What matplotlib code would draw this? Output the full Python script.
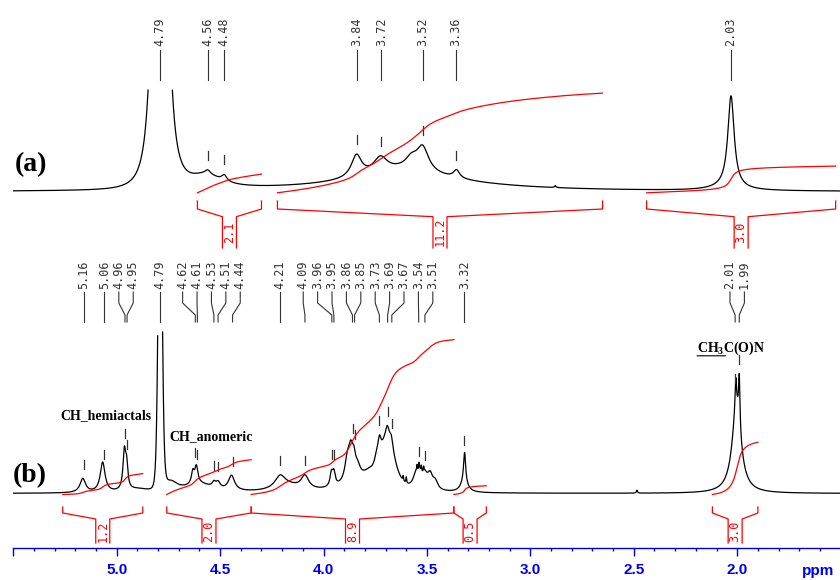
import numpy as np
import matplotlib
matplotlib.use("Agg")
import matplotlib.pyplot as plt
from matplotlib.ticker import FixedLocator, MultipleLocator

# ------------------------------------------------------------------ data
# spectrum (a): line components  (position ppm, height, half width ppm, shape exponent)
a_pos = [4.79, 4.57, 4.56, 4.48, 3.60, 3.62, 3.841, 3.725, 3.575, 3.521, 3.357, 2.03, 2.05, 2.88]
a_hgt = [1037, 13, 4, 6, 12, 9, 22, 15, 10, 24, 8, 92, 3, 2]
a_wid = [0.03, 0.10, 0.015, 0.015, 0.45, 0.20, 0.03, 0.04, 0.035, 0.035, 0.018, 0.0186, 0.10, 0.004]
a_pow = [1.5, 1, 1, 1, 1, 1, 1, 1, 1, 1, 1, 1, 1, 1]
a_peak_labels = [4.79, 4.56, 4.48, 3.84, 3.72, 3.52, 3.36, 2.03]
a_int_start = [4.610, 4.223, 2.438]
a_int_end = [4.300, 2.651, 1.524]
a_int_value = [2.1, 11.2, 3.0]

# spectrum (b)
b_pos = [5.164, 5.068, 4.963, 4.952, 4.90, 4.79, 4.74, 4.60, 4.632, 4.615, 4.53, 4.51, 4.445,
         4.21, 4.17, 4.09, 3.80, 3.962, 3.950, 3.885, 3.868, 3.853, 3.835, 3.78, 3.745, 3.73,
         3.69, 3.692, 3.672, 3.615, 3.600, 3.555, 3.548, 3.538, 3.535, 3.527, 3.516, 3.51,
         3.485, 3.46, 3.318, 3.32, 2.485, 2.003, 2.007, 1.990]
b_hgt = [14, 30, 38, 22, 3, 400, 10, 8, 12, 17, 5, 6, 15,
         12, 6, 13, 12, 13, 13, 20, 28, 15, 10, 5, 8, 20,
         50, 8, 8, 5, 6, 12, 6, 7, 12, 6, 5, 12,
         14, 8, 30, 10, 3, 85, 30, 50]
b_wid = [0.016, 0.014, 0.008, 0.007, 0.06, 0.023, 0.04, 0.08, 0.008, 0.009, 0.01, 0.012, 0.018,
         0.03, 0.08, 0.022, 0.10, 0.008, 0.008, 0.015, 0.014, 0.01, 0.015, 0.03, 0.012, 0.01,
         0.06, 0.008, 0.008, 0.002, 0.002, 0.015, 0.002, 0.002, 0.015, 0.002, 0.002, 0.015,
         0.015, 0.015, 0.006, 0.02, 0.003, 0.026, 0.004, 0.004]
b_pow = [1, 1, 1, 1, 1, 4, 1, 1, 1, 1, 1, 1, 1,
         1, 1, 1, 1, 1, 1, 1, 1, 1, 1, 1, 1, 1,
         2, 1, 1, 1, 1, 1, 1, 1, 1, 1, 1, 1,
         1, 1, 1, 1, 1, 1, 1, 1]
b_peak_labels = [5.16, 5.06, 4.96, 4.95, 4.79, 4.62, 4.61, 4.53, 4.51, 4.44, 4.21, 4.09,
                 3.96, 3.95, 3.86, 3.85, 3.73, 3.69, 3.67, 3.54, 3.51, 3.32, 2.01, 1.99]
b_int_start = [5.261, 4.758, 4.350, 3.370, 2.120]
b_int_end = [4.874, 4.350, 3.370, 3.213, 1.900]
b_int_value = [1.2, 2.0, 8.9, 0.5, 3.0]

x_ticks = [5.5, 5.0, 4.5, 4.0, 3.5, 3.0, 2.5, 2.0]
x_tick_labels = ["", "5.0", "4.5", "4.0", "3.5", "3.0", "2.5", "2.0"]

# ------------------------------------------------------------------ layout
W, H = 840, 580
X0 = 13.3          # left end of axis (px)
AXY = 548.3        # axis line (px from top)
XL, XR = 5.5, 1.503
PX = (XL - XR) / (W - X0)   # ppm per pixel
BLUE = "#0000ee"
GREY = "#333333"
RED = "#ff0000"

fig = plt.figure(figsize=(W / 100, H / 100), dpi=100)
ax = fig.add_axes([X0 / W, (H - AXY) / H, (W - X0) / W, AXY / H])
ax.set_xlim(XL, XR)
ax.set_ylim(AXY, 0)
for s in ("top", "left", "right"):
    ax.spines[s].set_visible(False)
ax.spines["bottom"].set_color(BLUE)
ax.spines["bottom"].set_linewidth(1.0)
ax.set_yticks([])
ax.xaxis.set_major_locator(FixedLocator(x_ticks))
ax.xaxis.set_minor_locator(MultipleLocator(0.1))
ax.set_xticklabels(x_tick_labels, fontweight="bold", family="Liberation Sans", fontsize=11, color=BLUE)
ax.tick_params(axis="x", which="major", direction="out", length=5.8, width=1, color=BLUE, pad=4.5)
ax.tick_params(axis="x", which="minor", direction="out", length=2.5, width=1, color=BLUE)
ax.text(XL - (818 - X0) * PX, 571, "ppm", ha="center", va="center", fontweight="bold",
        family="Liberation Sans", fontsize=11, color=BLUE, clip_on=False)

grid = np.linspace(XL, XR, 16001)


def model(pos, hgt, wid, pw):
    out = np.zeros_like(grid)
    for c, h, w, p in zip(pos, hgt, wid, pw):
        out += h / (1 + ((grid - c) / w) ** 2) ** p
    return out


def spread(ppms, gap_px):
    px = [(XL - p) / PX for p in ppms]
    q = [v - i * gap_px for i, v in enumerate(px)]
    blocks = []
    for v in q:
        blocks.append([v, 1])
        while len(blocks) > 1 and blocks[-2][0] / blocks[-2][1] > blocks[-1][0] / blocks[-1][1]:
            s, c = blocks.pop()
            blocks[-1][0] += s
            blocks[-1][1] += c
    fit = []
    for s, c in blocks:
        fit += [s / c] * c
    return [XL - (f + i * gap_px) * PX for i, f in enumerate(fit)]


def draw_spectrum(I, base, clip):
    y = base - I
    y = np.where(y < clip, np.nan, y)
    ax.plot(grid, y, color="black", lw=0.9, solid_joinstyle="round")


def draw_labels(I, base, labels, text_y, y_top, y_b1, y_b2, y_bot):
    lab = spread(labels, 14.4)
    for p, l in zip(labels, lab):
        ax.plot([l, l, p, p], [y_top, y_b1, y_b2, y_bot], color=GREY, lw=0.8)
        ax.text(l, text_y, f"{p:.2f}", rotation=90, ha="center", va="bottom",
                family="DejaVu Sans Mono", fontsize=8.5, color=GREY)
        yp = base - np.interp(p, grid[::-1], I[::-1])
        if yp - 19 > y_bot + 3:
            ax.plot([p, p], [yp - 19, yp - 10], color=GREY, lw=0.9)


def draw_integrals(I, base, starts, ends, values, scale, top, tick, drop, bottom, text_y):
    g = 7 * PX
    for p0, p1, v in zip(starts, ends, values):
        m = (grid <= p0) & (grid >= p1)
        cum = np.cumsum(I[m])
        cum = (cum - cum[0]) / (cum[-1] - cum[0])
        ax.plot(grid[m], base + 1 - v * scale * cum, color=RED, lw=0.9)
        xc = (p0 + p1) / 2
        ax.plot([p0, p0, xc + g, xc + g], [top, top + tick, top + tick + drop, bottom], color=RED, lw=0.9)
        ax.plot([p1, p1, xc - g, xc - g], [top, top + tick, top + tick + drop, bottom], color=RED, lw=0.9)
        ax.text(xc, text_y, f"{v:.1f}", rotation=90, ha="center", va="center",
                family="DejaVu Sans Mono", fontsize=8.5, color=RED)


Ia = model(a_pos, a_hgt, a_wid, a_pow)
Ib = model(b_pos, b_hgt, b_wid, b_pow)
A_BASE, B_BASE = 191.8, 493.5

draw_spectrum(Ia, A_BASE, 90)
draw_spectrum(Ib, B_BASE, 332)
draw_labels(Ia, A_BASE, a_peak_labels, 46, 50, 57, 73, 80)
draw_labels(Ib, B_BASE, b_peak_labels, 289, 292, 303, 315, 322)
draw_integrals(Ia, A_BASE, a_int_start, a_int_end, a_int_value, 8.9, 201, 8, 7.7, 248, 232)
draw_integrals(Ib, B_BASE, b_int_start, b_int_end, b_int_value, 17.4, 507, 6, 6, 543, 531)

serif = dict(family="Liberation Serif", fontweight="bold")
ax.text(XL - (15 - X0) * PX, 165, "(a)", ha="left", va="center", fontsize=20, **serif)
ax.text(XL - (13 - X0) * PX, 476, "(b)", ha="left", va="center", fontsize=20, **serif)
ax.text(XL - (106 - X0) * PX, 416, "CH_hemiactals", ha="center", va="center", fontsize=10, **serif)
ax.text(XL - (211.5 - X0) * PX, 437, "CH_anomeric", ha="center", va="center", fontsize=10, **serif)

plt.rcParams["mathtext.fontset"] = "custom"
plt.rcParams["mathtext.bf"] = "Liberation Serif:bold"
plt.rcParams["mathtext.rm"] = "Liberation Serif:bold"
t = ax.text(XL - (731 - X0) * PX, 348, r"$\mathbf{CH_3}$C(O)N", ha="center", va="center", fontsize=10, **serif)
ax.annotate("", xy=(0.0, 0.05), xycoords=t, xytext=(0.42, 0.05), textcoords=t,
            arrowprops=dict(arrowstyle="-", color="black", lw=0.8, shrinkA=0, shrinkB=0))

fig.savefig("out.png", dpi=100)
